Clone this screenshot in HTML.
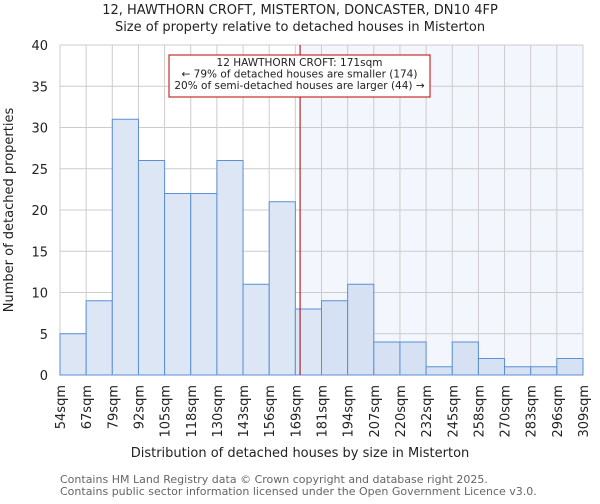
<!DOCTYPE html>
<html><head><meta charset="utf-8"><style>
body{margin:0;background:#fff;font-family:"DejaVu Sans","Liberation Sans",sans-serif}
svg text{font-family:"DejaVu Sans","Liberation Sans",sans-serif}
</style></head><body>
<svg id="chart" width="600" height="500" xmlns="http://www.w3.org/2000/svg">
<text x="300" y="14" text-anchor="middle" font-size="13" fill="#222">12, HAWTHORN CROFT, MISTERTON, DONCASTER, DN10 4FP</text>
<text x="300" y="31" text-anchor="middle" font-size="13" fill="#222">Size of property relative to detached houses in Misterton</text>
<g id="plot"></g>
<text x="300" y="457" text-anchor="middle" font-size="13" fill="#222">Distribution of detached houses by size in Misterton</text>
<text x="13" y="210" text-anchor="middle" font-size="13" fill="#222" transform="rotate(-90 13 210)">Number of detached properties</text>
<text x="60" y="483" font-size="11" fill="#666">Contains HM Land Registry data © Crown copyright and database right 2025.</text>
<text x="60" y="495" font-size="11" fill="#666">Contains public sector information licensed under the Open Government Licence v3.0.</text>
</svg>
<script>
const categories=["54sqm","67sqm","79sqm","92sqm","105sqm","118sqm","130sqm","143sqm","156sqm","169sqm","181sqm","194sqm","207sqm","220sqm","232sqm","245sqm","258sqm","270sqm","283sqm","296sqm","309sqm"];
const counts=[5,9,31,26,22,22,26,11,21,8,9,11,4,4,1,4,2,1,1,2];
const yTicks=[0,5,10,15,20,25,30,35,40];
const markerBin=9.18;
const NS="http://www.w3.org/2000/svg";
const L=60,R=583,T=45,B=375,nb=counts.length;
const xs=i=>L+(R-L)*i/nb;
const ys=v=>B-(B-T)*v/40;
const g=document.getElementById('plot');
function mk(t,a){const e=document.createElementNS(NS,t);for(const k in a)e.setAttribute(k,a[k]);g.appendChild(e);return e;}
const mx=xs(markerBin);
let e=mk('rect',{x:mx,y:T,width:R-mx,height:B-T,fill:'#f3f6fd'});


for(let i=0;i<=nb;i++){e=mk('line',{x1:xs(i),x2:xs(i),y1:T,y2:B,stroke:'#ccc','stroke-width':1});

}
yTicks.forEach(v=>{e=mk('line',{x1:L,x2:R,y1:ys(v),y2:ys(v),stroke:'#ccc','stroke-width':1});


const t=mk('text',{x:L-12,y:ys(v)+5,'text-anchor':'end','font-size':13,fill:'#222'});t.textContent=v;

});
counts.forEach((c,i)=>{e=mk('rect',{x:xs(i),y:ys(c),width:xs(i+1)-xs(i),height:B-ys(c),fill:i>=10?'#d6e1f3':'#dde6f4',stroke:'#5b8fd6','stroke-width':1});

});
categories.forEach((c,i)=>{const x=xs(i)+5,y=B+10;const t=mk('text',{x:x,y:y,'text-anchor':'end','font-size':13,fill:'#222',transform:`rotate(-90 ${x} ${y})`});t.textContent=c;

});
e=mk('line',{x1:mx,x2:mx,y1:T,y2:B,stroke:'#a00000','stroke-width':1});


e=mk('rect',{x:169,y:55,width:261,height:42,fill:'#fff',stroke:'#c00000','stroke-width':1});


["12 HAWTHORN CROFT: 171sqm","← 79% of detached houses are smaller (174)","20% of semi-detached houses are larger (44) →"].forEach((s,i)=>{const t=mk('text',{x:299.5,y:66+i*11.5,'text-anchor':'middle','font-size':10.5,fill:'#222'});t.textContent=s;

});
</script>
</body></html>
